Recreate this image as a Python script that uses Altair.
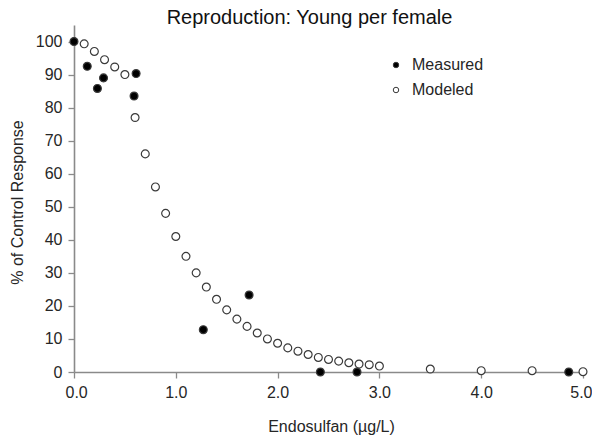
import altair as alt
import pandas as pd

measured_x = [0.0, 0.13, 0.23, 0.29, 0.59, 0.61, 1.27, 1.72, 2.42, 2.78, 4.86]
measured_y = [100.0, 92.5, 85.8, 89.0, 83.5, 90.3, 12.8, 23.3, 0.0, 0.0, 0.0]

modeled_x = [0.1, 0.2, 0.3, 0.4, 0.5, 0.6, 0.7, 0.8, 0.9, 1.0,
             1.1, 1.2, 1.3, 1.4, 1.5, 1.6, 1.7, 1.8, 1.9, 2.0,
             2.1, 2.2, 2.3, 2.4, 2.5, 2.6, 2.7, 2.8, 2.9, 3.0,
             3.5, 4.0, 4.5, 5.0]
modeled_y = [99.3, 97.0, 94.5, 92.3, 90.0, 77.0, 66.0, 56.0, 48.0, 41.0,
             35.0, 30.0, 25.7, 22.0, 18.8, 16.0, 13.8, 11.8, 10.0, 8.7,
             7.3, 6.3, 5.3, 4.4, 3.8, 3.3, 2.8, 2.4, 2.2, 1.8,
             0.9, 0.4, 0.4, 0.1]

series = ["Measured", "Modeled"]
x_ticks = [0, 1, 2, 3, 4, 5]
y_ticks = [0, 10, 20, 30, 40, 50, 60, 70, 80, 90, 100]

df = pd.concat([
    pd.DataFrame({"x": modeled_x, "y": modeled_y, "s": series[1], "o": 0}),
    pd.DataFrame({"x": measured_x, "y": measured_y, "s": series[0], "o": 1}),
])

FONT = "Liberation Sans"
TXT = "#262626"
AX = "#8a8a8a"

chart = alt.Chart(df).mark_circle(
    size=62, opacity=1, stroke="#3a3a3a", strokeWidth=1.2
).encode(
    x=alt.X("x:Q", scale=alt.Scale(domain=[0, 5], nice=False),
            axis=alt.Axis(values=x_ticks, format=".1f", title="Endosulfan (µg/L)",
                          grid=False, domainColor=AX, domainWidth=1.6, tickColor=AX,
                          tickWidth=1.3, tickSize=6, labelPadding=6,
                          labelFlush=True, labelFlushOffset=9,
                          labelFontSize=16, labelColor=TXT, labelFont=FONT,
                          titleFontSize=16, titleFont=FONT, titleColor=TXT,
                          titleFontWeight="normal", titleX=257, titleY=59,
                          titleBaseline="alphabetic")),
    y=alt.Y("y:Q", scale=alt.Scale(domain=[0, 105], nice=False),
            axis=alt.Axis(values=y_ticks, title="% of Control Response",
                          grid=False, domainColor=AX, domainWidth=1.6, tickColor=AX,
                          tickWidth=1.3, tickSize=6, labelPadding=6, labelFlush=False,
                          labelFontSize=16, labelColor=TXT, labelFont=FONT,
                          titleFontSize=16, titleFont=FONT, titleColor=TXT,
                          titleFontWeight="normal", titleX=-52, titleY=177,
                          titleBaseline="alphabetic")),
    fill=alt.Fill("s:N", scale=alt.Scale(domain=series, range=["#000000", "#ffffff"]),
                  legend=alt.Legend(title=None, orient="none", legendX=314, legendY=32,
                                    symbolSize=30, symbolStrokeColor="#3a3a3a",
                                    symbolStrokeWidth=1, symbolOpacity=1,
                                    labelFontSize=16, labelFont=FONT, labelColor=TXT,
                                    labelOffset=8, rowPadding=9, padding=0)),
    order=alt.Order("o:Q"),
).properties(
    width=509, height=347,
    title=alt.TitleParams("Reproduction: Young per female", fontSize=20, font=FONT,
                          color="#111111", fontWeight="normal", dx=-19, dy=23, offset=4,
                          baseline="alphabetic"),
    autosize=alt.AutoSizeParams(type="none"),
    padding={"left": 66, "top": 17, "right": 9, "bottom": 75},
).configure_view(stroke=None)

chart.save("out.html", embed_options={"renderer": "svg", "actions": False})
